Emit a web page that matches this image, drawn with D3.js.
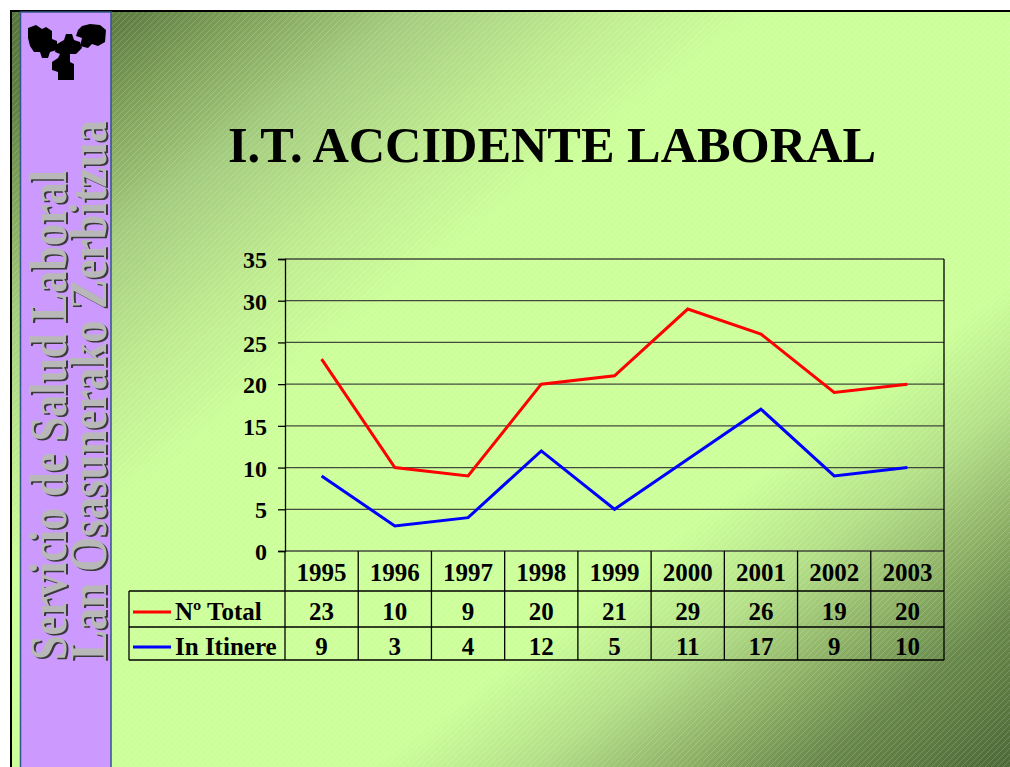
<!DOCTYPE html>
<html>
<head>
<meta charset="utf-8">
<script src="https://cdnjs.cloudflare.com/ajax/libs/d3/7.8.5/d3.min.js"></script>
<style>
  body { margin: 0; background: #fff; }
  svg { display: block; }
</style>
</head>
<body>
<svg width="1010" height="767"></svg>
<script>
// data
var years = ["1995", "1996", "1997", "1998", "1999", "2000", "2001", "2002", "2003"];
var total = [23, 10, 9, 20, 21, 29, 26, 19, 20];
var itinere = [9, 3, 4, 12, 5, 11, 17, 9, 10];
var yTicks = [0, 5, 10, 15, 20, 25, 30, 35];
var seriesNames = ["Nº Total", "In Itinere"];
var seriesColors = ["#ff0000", "#0000ff"];

var svg = d3.select("svg");
var defs = svg.append("defs");
var font = "Liberation Serif, Times New Roman, serif";

var grad = defs.append("linearGradient")
    .attr("id", "bg")
    .attr("x1", 0).attr("y1", 0).attr("x2", 1).attr("y2", 1);
[[0, "#55753c"], [0.06, "#5f7f43"], [0.12, "#7fa25a"], [0.2, "#a4cc7e"], [0.3, "#c0ec90"],
 [0.38, "#ccff99"], [0.68, "#ccff99"], [0.76, "#b4e088"], [0.83, "#90b468"], [0.9, "#68894b"], [1, "#4e6a38"]]
  .forEach(function (s) {
    grad.append("stop").attr("offset", s[0]).attr("stop-color", s[1]);
  });

var pat = defs.append("pattern")
    .attr("id", "hatch")
    .attr("patternUnits", "userSpaceOnUse")
    .attr("width", 6).attr("height", 6);
pat.append("path")
    .attr("d", "M0,6 L6,0 M-1,1 L1,-1 M5,7 L7,5")
    .attr("stroke", "#ffffff")
    .attr("stroke-opacity", 0.18)
    .attr("stroke-width", 1);

// slide frame
svg.append("rect").attr("x", 12).attr("y", 12).attr("width", 998).attr("height", 755).attr("fill", "url(#bg)");
svg.append("rect").attr("x", 12).attr("y", 12).attr("width", 998).attr("height", 755).attr("fill", "url(#hatch)");
svg.append("rect").attr("x", 10).attr("y", 10).attr("width", 1000).attr("height", 2).attr("fill", "#000");
svg.append("rect").attr("x", 10).attr("y", 10).attr("width", 2).attr("height", 757).attr("fill", "#000");

// side panel
svg.append("rect").attr("x", 20.5).attr("y", 12).attr("width", 90.5).attr("height", 760)
    .attr("fill", "#cc99ff").attr("stroke", "#33558a").attr("stroke-width", 1.5);

// logo
var logo = svg.append("g").attr("fill", "#000");
logo.append("path").attr("d",
  "M28,28 L36,25 L42,29 L46,27 L52,31 L52,39 L57,41 L57,50 L50,52 L48,58 L42,58 L40,52 L34,52 L30,46 L28,38 Z");
logo.append("path").attr("d",
  "M78,30 L82,26 L90,24 L100,25 L106,30 L105,42 L98,46 L92,44 L88,48 L80,46 L82,38 L76,36 Z");
logo.append("path").attr("d",
  "M57,44 L64,40 L66,34 L72,34 L74,40 L80,42 L82,48 L76,54 L70,54 L70,62 L74,64 L74,80 L58,80 L58,72 L52,70 L52,62 L58,58 L60,54 L55,52 Z");

// vertical text
var sideText = [["Servicio de Salud Laboral", 66, 660, 490], ["Lan Osasunerako Zerbitzua", 106, 660, 540]];
sideText.forEach(function (t) {
  [[1.5, 1.5, "#3a3a3a"], [0, 0, "#b8b8b8"]].forEach(function (v) {
    svg.append("text")
        .attr("transform", "translate(" + (t[1] + v[0]) + "," + (t[2] + v[1]) + ") rotate(-90)")
        .attr("font-family", font)
        .attr("font-weight", "bold")
        .attr("font-size", 53)
        .attr("textLength", t[3])
        .attr("lengthAdjust", "spacingAndGlyphs")
        .attr("fill", v[2])
        .text(t[0]);
  });
});

// title
svg.append("text")
    .attr("x", 552).attr("y", 162)
    .attr("text-anchor", "middle")
    .attr("font-family", font)
    .attr("font-weight", "bold")
    .attr("font-size", 51)
    .attr("textLength", 648)
    .attr("lengthAdjust", "spacingAndGlyphs")
    .attr("fill", "#000")
    .text("I.T. ACCIDENTE LABORAL");

// chart
var plotLeft = 285, plotRight = 944, plotTop = 259, plotBottom = 551;
var x = d3.scaleBand().domain(years).range([plotLeft, plotRight]);
var y = d3.scaleLinear().domain([0, 35]).range([plotBottom, plotTop]);

var g = svg.append("g");

g.selectAll(".grid")
    .data(yTicks)
    .enter().append("line")
    .attr("class", "grid")
    .attr("x1", plotLeft).attr("x2", plotRight)
    .attr("y1", function (d) { return y(d); })
    .attr("y2", function (d) { return y(d); })
    .attr("stroke", "#2a2a2a")
    .attr("stroke-opacity", 0.85)
    .attr("stroke-width", 1.3);

g.append("line").attr("x1", plotRight).attr("x2", plotRight).attr("y1", plotTop).attr("y2", plotBottom)
    .attr("stroke", "#000").attr("stroke-width", 1.3);

var yAxis = g.append("g")
    .attr("transform", "translate(" + plotLeft + ",0)")
    .call(d3.axisLeft(y).tickValues(yTicks).tickSize(7).tickPadding(11));
yAxis.select(".domain").attr("stroke", "#000").attr("stroke-width", 1.3);
yAxis.selectAll(".tick line").attr("stroke", "#000").attr("stroke-width", 1.3);
yAxis.selectAll(".tick text")
    .attr("font-family", font)
    .attr("font-weight", "bold")
    .attr("font-size", 24)
    .attr("fill", "#000")
    .attr("dy", "0.36em");

var line = d3.line()
    .x(function (d, i) { return x(years[i]) + x.bandwidth() / 2; })
    .y(function (d) { return y(d); });

[total, itinere].forEach(function (s, k) {
  g.append("path")
      .datum(s)
      .attr("d", line)
      .attr("fill", "none")
      .attr("stroke", seriesColors[k])
      .attr("stroke-width", 3);
});

// data table
var rowY = [551, 591, 627, 660];
var tableLeft = 129;
var tg = svg.append("g").attr("stroke", "#000").attr("stroke-width", 1.3);

[1, 2, 3].forEach(function (r) {
  tg.append("line").attr("x1", tableLeft).attr("x2", plotRight).attr("y1", rowY[r]).attr("y2", rowY[r]);
});
tg.append("line").attr("x1", tableLeft).attr("x2", tableLeft).attr("y1", rowY[1]).attr("y2", rowY[3]);

var bounds = years.map(function (d) { return x(d); }).concat([plotRight]);
tg.selectAll(".vline")
    .data(bounds)
    .enter().append("line")
    .attr("x1", function (d) { return d; })
    .attr("x2", function (d) { return d; })
    .attr("y1", rowY[0]).attr("y2", rowY[3]);

function cellText(sel, yPos) {
  sel.attr("x", function (d, i) { return x(years[i]) + x.bandwidth() / 2; })
     .attr("y", yPos)
     .attr("text-anchor", "middle")
     .attr("font-family", font)
     .attr("font-weight", "bold")
     .attr("font-size", 25)
     .attr("fill", "#000")
     .text(function (d) { return d; });
}

svg.append("g").selectAll("text").data(years).enter().append("text").call(cellText, 581);
svg.append("g").selectAll("text").data(total).enter().append("text").call(cellText, 620);
svg.append("g").selectAll("text").data(itinere).enter().append("text").call(cellText, 655);

var legendY = [612, 647];
seriesNames.forEach(function (n, k) {
  svg.append("line")
      .attr("x1", 133).attr("x2", 171)
      .attr("y1", legendY[k]).attr("y2", legendY[k])
      .attr("stroke", seriesColors[k]).attr("stroke-width", 3);
  svg.append("text")
      .attr("x", 175).attr("y", legendY[k] + 8)
      .attr("font-family", font)
      .attr("font-weight", "bold")
      .attr("font-size", 25)
      .attr("fill", "#000")
      .text(n);
});
</script>
</body>
</html>
